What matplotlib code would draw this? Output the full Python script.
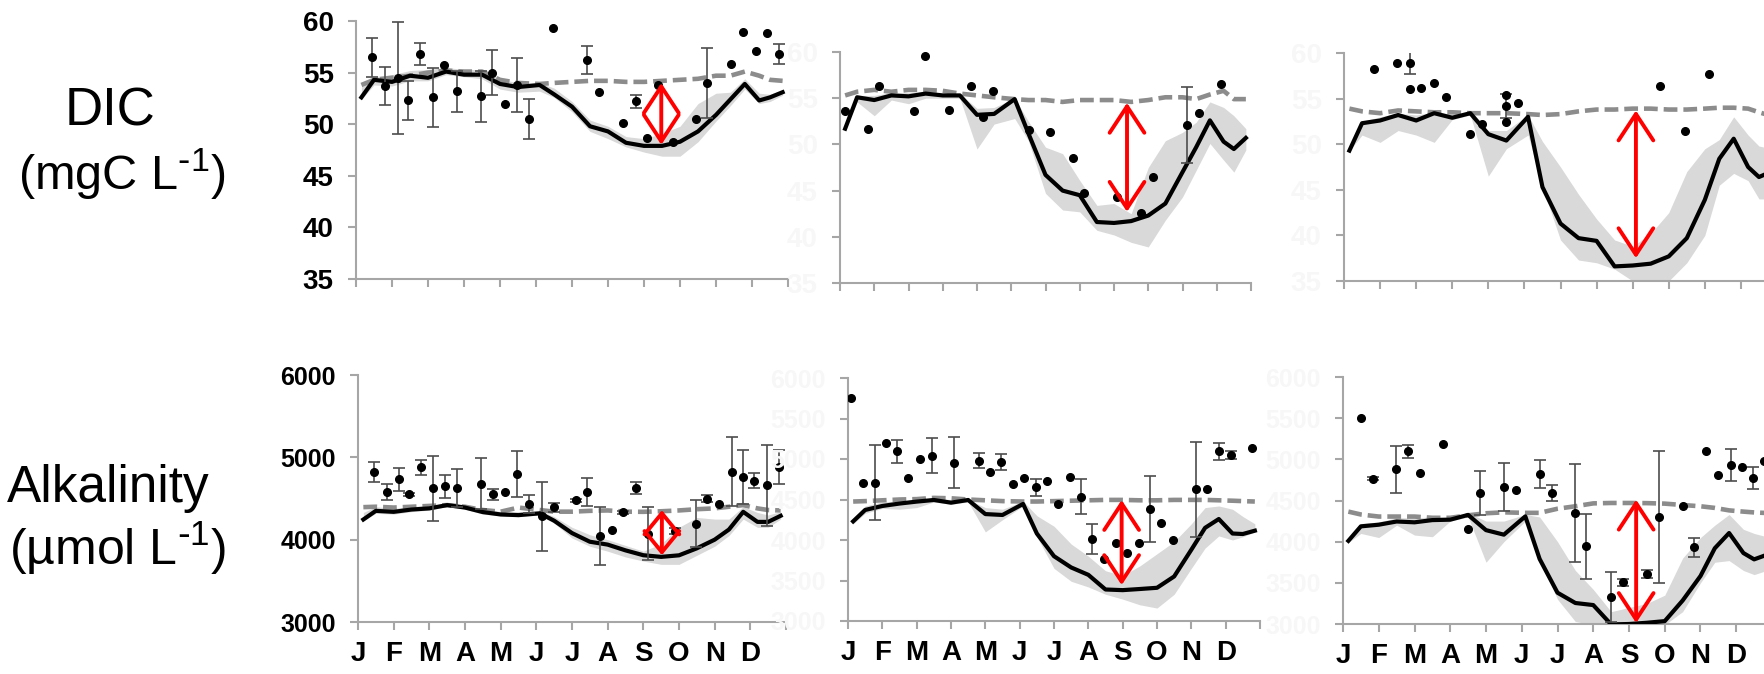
#!/usr/bin/env python3
"""Seasonal DIC and alkalinity at three sites: model vs. observations."""

import matplotlib.pyplot as plt
import numpy as np

plt.rcParams["font.family"] = ["Liberation Sans", "DejaVu Sans"]
plt.rcParams["mathtext.default"] = "regular"

MONTHS = ["J", "F", "M", "A", "M", "J", "J", "A", "S", "O", "N", "D"]

# model output times (months since 1 Jan)
model_x = [0.15, 0.5, 1.0, 1.5, 2.0, 2.5, 3.0, 3.5, 4.0, 4.5, 5.1, 5.5, 6.0,
           6.5, 7.0, 7.5, 8.0, 8.5, 9.0, 9.5, 10.0, 10.4, 10.8, 11.2, 11.5, 11.85]

# ---- DIC (mgC L-1), site A ----
dic_a_model = [52.6, 54.3, 54.1, 54.7, 54.5, 55.1, 54.8, 54.8, 53.9, 53.6, 53.8, 52.9, 51.7,
               49.8, 49.3, 48.2, 47.9, 47.9, 48.3, 49.3, 50.9, 52.4, 53.9, 52.3, 52.6, 53.1]
dic_a_base = [53.8, 54.3, 54.5, 54.7, 55.0, 55.2, 55.1, 55.1, 54.3, 54.0, 53.9, 54.0, 54.1,
              54.2, 54.2, 54.1, 54.1, 54.2, 54.3, 54.4, 54.7, 54.7, 55.1, 54.7, 54.3, 54.2]
dic_a_lo = [52.4, 53.8, 53.7, 54.2, 54.2, 54.8, 54.6, 54.4, 53.4, 53.1, 53.2, 52.6, 51.2,
            49.3, 48.6, 47.8, 47.3, 46.9, 46.9, 48.3, 50.3, 51.8, 53.4, 52.0, 52.2, 52.8]
dic_a_hi = [53.6, 54.6, 54.8, 55.2, 55.3, 55.5, 55.3, 55.3, 54.4, 54.0, 54.0, 53.5, 52.2,
            50.4, 49.8, 48.8, 48.6, 49.1, 49.8, 52.0, 53.0, 53.1, 54.4, 53.0, 52.9, 53.3]
dic_a_obs_x = [0.45, 0.80, 1.17, 1.45, 1.79, 2.15, 2.44, 2.81, 3.46, 3.79, 4.13, 4.46, 4.81, 5.46,
               6.42, 6.75, 7.42, 7.77, 8.09, 8.39, 8.81, 9.44, 9.75, 10.43, 10.75, 11.10, 11.42, 11.75]
dic_a_obs_y = [56.5, 53.7, 54.5, 52.3, 56.8, 52.6, 55.7, 53.2, 52.7, 55.0, 52.0, 53.8, 50.5, 59.3,
               56.2, 53.1, 50.1, 52.2, 48.7, 53.8, 48.3, 50.5, 54.0, 55.8, 58.9, 57.1, 58.8, 56.8]
dic_a_obs_err = [1.9, 1.85, 5.45, 1.9, 1.05, 2.85, 0, 2.0, 2.45, 2.2, 0, 2.6, 1.95, 0,
                 1.35, 0, 0, 0.65, 0, 0, 0, 0, 3.4, 0, 0, 0, 0, 0.95]
dic_a_gap = [8.48, 54.0, 48.0]  # month, top, bottom

# ---- DIC, site B ----
dic_b_model = [51.7, 55.1, 54.8, 55.3, 55.2, 55.5, 55.3, 55.3, 53.2, 53.3, 54.9, 51.2, 46.7,
               45.0, 44.5, 41.6, 41.5, 41.7, 42.3, 43.6, 47.0, 49.7, 52.6, 50.3, 49.5, 50.7]
dic_b_base = [55.3, 55.7, 55.9, 55.7, 55.9, 55.9, 55.8, 55.5, 55.3, 55.1, 54.9, 54.8, 54.8,
              54.6, 54.8, 54.8, 54.8, 54.6, 54.8, 55.1, 55.1, 54.9, 55.4, 55.8, 54.9, 54.9]
dic_b_lo = [51.7, 54.6, 53.1, 54.8, 54.4, 55.0, 55.0, 55.0, 49.5, 52.2, 52.8, 50.4, 44.7,
            42.9, 42.7, 40.7, 40.2, 39.4, 38.9, 41.8, 44.3, 47.2, 50.1, 48.3, 47.0, 49.4]
dic_b_hi = [52.0, 55.3, 55.3, 55.6, 55.6, 55.7, 55.5, 55.5, 53.9, 54.0, 55.0, 52.5, 49.7,
            49.0, 46.1, 43.4, 43.6, 42.5, 47.5, 50.4, 51.3, 52.4, 54.6, 54.0, 53.1, 51.7]
dic_b_obs_x = [0.15, 0.83, 1.15, 2.16, 2.49, 3.17, 3.83, 4.17, 4.48, 5.51, 6.12, 6.80, 7.13,
               8.10, 8.79, 9.13, 10.13, 10.47, 11.13]
dic_b_obs_y = [53.6, 51.7, 56.3, 53.6, 59.6, 53.7, 56.3, 53.0, 55.8, 51.6, 51.3, 48.5, 44.7,
               44.3, 42.6, 46.5, 52.1, 53.4, 56.5]
dic_b_obs_err = [0, 0, 0, 0, 0, 0, 0, 0, 0, 0, 0, 0, 0, 0, 0, 0, 4.1, 0, 0]
dic_b_gap = [8.38, 54.5, 42.7]

# ---- DIC, site C ----
dic_c_model = [49.3, 52.3, 52.6, 53.2, 52.6, 53.4, 52.9, 53.4, 51.1, 50.4, 53.0, 45.3, 41.3,
               39.7, 39.4, 36.6, 36.7, 36.9, 37.7, 39.7, 43.9, 48.4, 50.6, 47.5, 46.4, 47.0]
dic_c_base = [53.9, 53.6, 53.4, 53.7, 53.6, 53.5, 53.5, 53.4, 53.4, 53.4, 53.3, 53.2, 53.3,
              53.6, 53.8, 53.8, 53.9, 53.9, 53.8, 53.8, 53.9, 54.0, 54.0, 53.9, 53.5, 53.1]
dic_c_lo = [49.3, 51.0, 50.2, 51.5, 51.0, 50.2, 52.7, 53.2, 46.5, 49.5, 51.0, 45.3, 39.5,
            37.3, 37.0, 36.3, 35.0, 34.9, 35.0, 37.0, 40.0, 45.5, 46.8, 46.0, 44.0, 44.0]
dic_c_hi = [49.5, 52.5, 53.0, 53.4, 53.2, 53.5, 53.3, 53.5, 51.5, 51.5, 53.2, 50.3, 47.5,
            44.5, 41.8, 39.5, 38.8, 40.2, 42.5, 47.0, 49.5, 50.5, 53.0, 51.0, 49.8, 49.5]
dic_c_obs_x = [0.82, 1.48, 1.82, 1.82, 2.14, 2.50, 2.82, 3.48, 3.83, 4.48, 4.48, 4.48, 4.82,
               8.77, 9.45, 10.12]
dic_c_obs_y = [58.2, 58.9, 58.9, 56.1, 56.2, 56.7, 55.2, 51.1, 52.2, 55.4, 54.2, 52.4, 54.5,
               56.4, 51.4, 57.7]
dic_c_obs_err = [0, 0, 1.2, 0, 0, 0, 0, 0, 0, 0, 1.35, 0, 0, 0, 0, 0]
dic_c_gap = [8.09, 53.7, 37.5]

# ---- Alkalinity (umol L-1), site A ----
alk_a_model = [4245, 4350, 4338, 4366, 4380, 4420, 4390, 4335, 4306, 4298, 4320, 4230, 4080,
               3975, 3940, 3870, 3811, 3791, 3810, 3895, 4000, 4123, 4338, 4216, 4216, 4290]
alk_a_base = [4395, 4400, 4390, 4400, 4410, 4420, 4400, 4360, 4340, 4390, 4360, 4340, 4340,
              4350, 4355, 4340, 4338, 4345, 4355, 4370, 4380, 4400, 4420, 4380, 4360, 4355]
alk_a_lo = [4230, 4320, 4310, 4340, 4360, 4400, 4370, 4310, 4290, 4280, 4300, 4200, 4020,
            3920, 3860, 3790, 3740, 3700, 3700, 3810, 3920, 4050, 4250, 4150, 4150, 4250]
alk_a_hi = [4330, 4400, 4380, 4400, 4420, 4440, 4420, 4380, 4340, 4340, 4350, 4280, 4150,
            4060, 4000, 3930, 3860, 3950, 4150, 4270, 4250, 4250, 4400, 4330, 4300, 4340]
alk_a_obs_x = [0.46, 0.81, 1.14, 1.42, 1.76, 2.10, 2.45, 2.77, 3.45, 3.78, 4.12, 4.45, 4.80,
               5.17, 5.50, 6.12, 6.43, 6.79, 7.11, 7.44, 7.79, 8.12, 8.89, 9.48, 9.79, 10.13,
               10.48, 10.80, 11.11, 11.46, 11.81]
alk_a_obs_y = [4824, 4581, 4731, 4549, 4877, 4622, 4650, 4630, 4682, 4549, 4581, 4796, 4431,
               4285, 4391, 4480, 4581, 4042, 4123, 4330, 4630, 4074, 4103, 4196, 4500, 4431,
               4824, 4764, 4715, 4662, 4885]
alk_a_obs_err = [120, 95, 140, 20, 90, 390, 140, 230, 310, 70, 0, 280, 110, 420, 60, 20, 170,
                 355, 0, 15, 70, 325, 40, 285, 40, 0, 420, 330, 90, 490, 210]
alk_a_gap = [8.52, 4358, 3811]

# ---- Alkalinity, site B ----
alk_b_model = [4230, 4371, 4420, 4450, 4474, 4494, 4461, 4494, 4320, 4309, 4445, 4080, 3800,
               3661, 3570, 3389, 3381, 3395, 3410, 3550, 3880, 4150, 4259, 4080, 4074, 4115]
alk_b_base = [4475, 4480, 4490, 4500, 4505, 4520, 4515, 4500, 4490, 4480, 4475, 4475, 4480,
              4485, 4490, 4495, 4495, 4490, 4490, 4495, 4495, 4495, 4490, 4485, 4480, 4475]
alk_b_lo = [4200, 4330, 4390, 4380, 4400, 4470, 4440, 4470, 4100, 4250, 4420, 4040, 3650,
            3490, 3420, 3330, 3270, 3200, 3160, 3330, 3650, 3900, 4050, 4000, 4040, 4100]
alk_b_hi = [4250, 4420, 4470, 4480, 4500, 4510, 4500, 4500, 4400, 4380, 4480, 4300, 4170,
            3950, 3800, 3620, 3560, 3680, 3830, 3980, 4200, 4400, 4420, 4380, 4290, 4200]
alk_b_obs_x = [0.10, 0.44, 0.78, 1.10, 1.44, 1.75, 2.11, 2.45, 3.09, 3.81, 4.13, 4.47, 4.81,
               5.13, 5.47, 5.80, 6.12, 6.46, 6.80, 7.12, 7.45, 7.80, 8.13, 8.47, 8.80, 9.12,
               9.46, 10.13, 10.45, 10.82, 11.15, 11.78]
alk_b_obs_y = [5752, 4709, 4709, 5196, 5093, 4763, 4998, 5043, 4956, 4981, 4845, 4961, 4692,
               4763, 4651, 4734, 4445, 4775, 4536, 4012, 3764, 3958, 3834, 3958, 4383, 4214,
               4000, 4626, 4626, 5093, 5051, 5134]
alk_b_obs_err = [0, 0, 460, 0, 145, 0, 0, 220, 315, 95, 0, 100, 0, 0, 105, 0, 0, 0, 215, 180,
                 0, 0, 0, 0, 410, 0, 0, 590, 0, 105, 50, 0]
alk_b_gap = [7.97, 4494, 3443]

# ---- Alkalinity, site C ----
alk_c_model = [4010, 4186, 4206, 4245, 4235, 4262, 4267, 4325, 4140, 4085, 4307, 3790, 3380,
               3255, 3230, 2995, 3000, 3015, 3035, 3285, 3583, 3920, 4105, 3862, 3785, 3840]
alk_c_base = [4365, 4330, 4305, 4305, 4305, 4290, 4290, 4320, 4345, 4356, 4350, 4350, 4400,
              4430, 4465, 4470, 4470, 4468, 4462, 4445, 4430, 4410, 4380, 4365, 4355, 4348]
alk_c_lo = [3990, 4100, 4050, 4200, 4080, 4060, 4250, 4300, 3750, 4000, 4250, 3780, 3300,
            3030, 2990, 2980, 2980, 2980, 2990, 3150, 3500, 3750, 3770, 3650, 3600, 3650]
alk_c_hi = [4030, 4220, 4240, 4290, 4290, 4300, 4300, 4350, 4250, 4250, 4330, 4300, 4000,
            3650, 3420, 3150, 3200, 3250, 3350, 3800, 4050, 4200, 4330, 4150, 4100, 4060]
alk_c_obs_x = [0.50, 0.84, 1.48, 1.81, 2.14, 2.81, 3.49, 3.84, 4.51, 4.84, 5.50, 5.86, 6.50,
               6.80, 7.49, 7.82, 8.50, 8.83, 9.50, 9.83, 10.16, 10.50, 10.85, 11.16, 11.46, 11.78]
alk_c_obs_y = [5502, 4765, 4882, 5097, 4834, 5190, 4154, 4591, 4660, 4623, 4822, 4591, 4348,
               3943, 3328, 3506, 3611, 4299, 4429, 3931, 5097, 4806, 4935, 4903, 4773, 4976]
alk_c_obs_err = [0, 15, 285, 75, 0, 0, 0, 265, 290, 0, 175, 95, 590, 395, 300, 40, 50, 800, 0,
                 115, 0, 0, 195, 0, 130, 0]
alk_c_gap = [8.20, 4510, 3012]

dic_ticks = [35, 40, 45, 50, 55, 60]
alk_ticks_main = [3000, 4000, 5000, 6000]
alk_ticks_fine = [3000, 3500, 4000, 4500, 5000, 5500, 6000]

W, H = 1764, 674
AXIS_GREY = "#a6a6a6"


def px_box(x0, x1, y0, y1):
    return [x0 / W, 1 - y1 / H, (x1 - x0) / W, (y1 - y0) / H]


panels = [
    # (box, model, base, lo, hi, obs x, obs y, obs err, gap, ylim, yticks, faint, bottom row)
    (px_box(356, 788, 21, 279), dic_a_model, dic_a_base, dic_a_lo, dic_a_hi,
     dic_a_obs_x, dic_a_obs_y, dic_a_obs_err, dic_a_gap, (35, 60), dic_ticks, False, False),
    (px_box(840, 1251, 52, 283), dic_b_model, dic_b_base, dic_b_lo, dic_b_hi,
     dic_b_obs_x, dic_b_obs_y, dic_b_obs_err, dic_b_gap, (35, 60), dic_ticks, True, False),
    (px_box(1344, 1777, 53, 281), dic_c_model, dic_c_base, dic_c_lo, dic_c_hi,
     dic_c_obs_x, dic_c_obs_y, dic_c_obs_err, dic_c_gap, (35, 60), dic_ticks, True, False),
    (px_box(358, 786, 375, 622), alk_a_model, alk_a_base, alk_a_lo, alk_a_hi,
     alk_a_obs_x, alk_a_obs_y, alk_a_obs_err, alk_a_gap, (3000, 6000), alk_ticks_main, False, True),
    (px_box(848, 1260, 378, 621), alk_b_model, alk_b_base, alk_b_lo, alk_b_hi,
     alk_b_obs_x, alk_b_obs_y, alk_b_obs_err, alk_b_gap, (3000, 6000), alk_ticks_fine, True, True),
    (px_box(1343, 1772, 377, 624), alk_c_model, alk_c_base, alk_c_lo, alk_c_hi,
     alk_c_obs_x, alk_c_obs_y, alk_c_obs_err, alk_c_gap, (3000, 6000), alk_ticks_fine, True, True),
]

fig = plt.figure(figsize=(W / 100, H / 100), dpi=100)

for (box, model, base, lo, hi, ox, oy, oe, gap, ylim, yticks, faint, bottom) in panels:
    ax = fig.add_axes(box)
    ax.set_xlim(0, 12)
    ax.set_ylim(*ylim)

    ax.fill_between(model_x, lo, hi, color="#d9d9d9", lw=0, zorder=1)
    ax.plot(model_x, base, color="#8c8c8c", lw=3.3, dashes=(3.0, 1.3), zorder=2)
    ax.plot(model_x, model, color="black", lw=3, zorder=3)

    ox, oy, oe = np.asarray(ox), np.asarray(oy), np.asarray(oe)
    has_err = oe > 0
    ax.errorbar(ox[has_err], oy[has_err], yerr=oe[has_err], fmt="none", ecolor="#4d4d4d",
                elinewidth=1.2, capsize=4.5, capthick=1.2, zorder=4)
    ax.plot(ox, oy, "o", color="black", ms=5.5, zorder=5)

    # double arrow between baseline and model; short arrows get shorter heads
    y_top = ax.transData.transform((gap[0], gap[1]))[1]
    y_bot = ax.transData.transform((gap[0], gap[2]))[1]
    span_pt = abs(y_top - y_bot) * 72 / fig.dpi
    head_len = min(1.9, 0.47 * span_pt / 10)
    ax.annotate("", xy=(gap[0], gap[2]), xytext=(gap[0], gap[1]),
                arrowprops=dict(arrowstyle=f"<->,head_length={head_len:.2f},head_width=1.25",
                                color="red", lw=2.8, shrinkA=0, shrinkB=0,
                                mutation_scale=10),
                zorder=6)

    for side in ("top", "right"):
        ax.spines[side].set_visible(False)
    for side in ("left", "bottom"):
        ax.spines[side].set_color(AXIS_GREY)
        ax.spines[side].set_linewidth(1.5)
    ax.tick_params(direction="out", length=6, width=1.5, color=AXIS_GREY)
    ax.tick_params(axis="y", pad=10)
    ax.tick_params(axis="x", pad=8)

    label_color = "#f7f7f7" if faint else "black"
    ysize = 18 if bottom else 20
    ax.set_yticks(yticks, [str(t) for t in yticks], fontsize=ysize,
                  fontweight="bold", color=label_color)
    if bottom:
        ax.set_xticks(range(13), MONTHS + [""], fontsize=20, fontweight="bold")
    else:
        ax.set_xticks(range(13), [""] * 13)

# row labels
fig.text(110 / W, 1 - 125 / H, "DIC", ha="center", va="baseline", fontsize=38)
fig.text(122 / W, 1 - 190 / H, r"(mgC L$^{\text{-}1}$)", ha="center", va="baseline", fontsize=35)
fig.text(108 / W, 1 - 502 / H, "Alkalinity", ha="center", va="baseline", fontsize=37)
fig.text(118 / W, 1 - 565 / H, r"(µmol L$^{\text{-}1}$)", ha="center", va="baseline", fontsize=36)

fig.savefig("out.png", dpi=100)
print("Chart saved to: out.png")
